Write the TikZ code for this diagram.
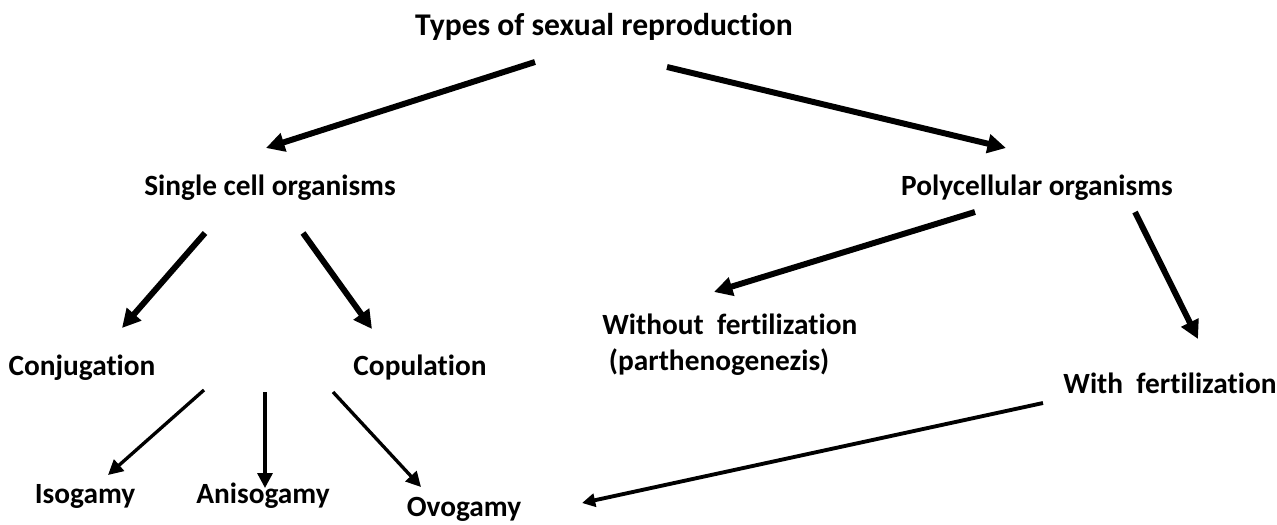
\documentclass[tikz,border=0pt]{standalone}
\usepackage{fontspec}
\setmainfont[Ligatures=NoCommon]{Carlito}
\usepackage{tikz}
\usetikzlibrary{arrows.meta,calc}

\begin{document}
\begin{tikzpicture}[
    x=0.02cm,
    y=-0.02cm,
    label/.style={
        inner sep=0pt,
        anchor=base,
        font=\fontsize{16.7}{20.3}\selectfont\bfseries
    },
    bigarrow/.style={
        line width=3.4pt,
        -{Triangle[length=10.5pt,width=10.5pt]}
    },
    smallarrow/.style={
        line width=1.9pt,
        -{Triangle[length=8.5pt,width=8.5pt]}
    },
    longarrow/.style={
        line width=2.2pt,
        -{Triangle[length=7.5pt,width=7.5pt]}
    }
]

\useasboundingbox (0,0) rectangle (1277,524);


\node[label, font=\fontsize{18}{22}\selectfont\bfseries] (types) at (604,35)
    {Types of sexual reproduction};


\node[label] (single) at (270,195) {Single cell organisms};
\node[label] (poly) at (1037,195) {Polycellular organisms};


\node[label] (conj) at (82,375) {Conjugation};
\node[label] (cop) at (420,375) {Copulation};
\node[label, anchor=north west, align=left] (without) at (602,314)
    {Without\ \ fertilization\\\ (parthenogenezis)};
\node[label] (with) at (1170,393) {With\ \ fertilization};


\node[label] (iso) at (85,503) {Isogamy};
\node[label] (aniso) at (263,503) {Anisogamy};
\node[label] (ovo) at (464,516) {Ovogamy};


\coordinate (gam) at ($(conj.base)!0.5!(cop.base)$);



\draw[bigarrow] ($(types.base)+(-69,27)$) -- ($(single.base)+(-4,-47)$);
\draw[bigarrow] ($(types.base)+(63,32)$) -- ($(poly.base)+(-31,-47)$);


\draw[bigarrow] ($(single.base)+(-65,38)$) -- ($(conj.base)+(40,-47)$);
\draw[bigarrow] ($(single.base)+(33,38)$) -- ($(cop.base)+(-48,-46)$);


\draw[bigarrow] ($(poly.base)+(-62,17)$) -- ($(without.north west)+(112,-22)$);
\draw[bigarrow] ($(poly.base)+(98,17)$) -- ($(with.base)+(28,-54)$);


\draw[smallarrow] ($(gam)+(-47,15)$) -- ($(iso.base)+(23,-28)$);
\draw[smallarrow] ($(gam)+(14,17)$) -- ($(aniso.base)+(2,-15)$);
\draw[smallarrow] ($(gam)+(82,17)$) -- ($(ovo.base)+(-43,-29)$);


\draw[longarrow] ($(with.base)+(-127,10)$) -- ($(ovo.base)+(118,-13)$);

\end{tikzpicture}
\end{document}
